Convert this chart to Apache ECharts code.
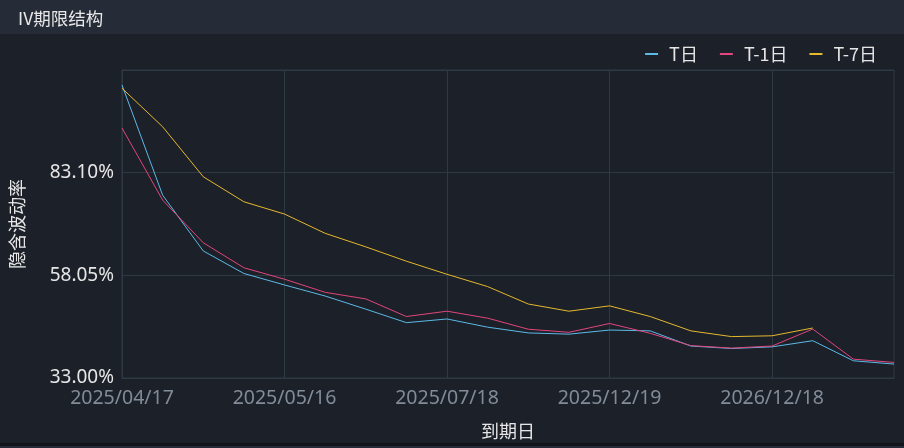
<!DOCTYPE html>
<html>
<head>
<meta charset="utf-8">
<script src="https://cdn.jsdelivr.net/npm/echarts@6/dist/echarts.min.js"></script>
<style>
html,body{margin:0;padding:0;background:#262c37;}
#main{width:904px;height:448px;}
</style>
</head>
<body>
<div id="main"></div>
<script>
const categories = ['2025/04/17','2025/04/25','2025/05/02','2025/05/09','2025/05/16','2025/05/23','2025/05/30','2025/06/20','2025/07/18','2025/08/15','2025/09/19','2025/10/17','2025/12/19','2026/01/16','2026/03/20','2026/06/18','2026/12/18','2027/01/15','2027/06/17','2027/12/17'];
const seriesNames = ['T日','T-1日','T-7日'];
const ivT  = [104.5,77.6,64.0,58.5,55.7,53.0,49.8,46.5,47.4,45.4,44.0,43.7,44.7,44.5,40.8,40.2,40.6,42.1,37.2,36.4];
const ivT1 = [94.0,76.4,66.0,59.9,57.1,53.9,52.3,48.0,49.3,47.6,44.9,44.15,46.3,43.9,40.9,40.3,40.8,44.95,37.6,36.8];
const ivT7 = [103.7,94.3,82.1,76.0,73.0,68.3,65.0,61.5,58.3,55.3,51.05,49.3,50.6,48.0,44.5,43.1,43.3,45.2,null,null];
const yTicks = [33.00, 58.05, 83.10, 108.15];

const colors = ['#5db9e6','#e2467c','#e6b82e'];
const chart = echarts.init(document.getElementById('main'));
const mk = (name, data, i) => ({
  name, type:'line', data, symbol:'none', smooth:false,
  lineStyle:{width:1, color:colors[i]}, itemStyle:{color:colors[i]}
});
chart.setOption({
  backgroundColor:'#1b2029',
  animation:false,
  graphic:[
    {type:'rect', left:0, top:0, shape:{width:904, height:34}, style:{fill:'#262c37'}, z:-1},
    {type:'rect', left:0, top:443, shape:{width:904, height:3}, style:{fill:'#11151b'}, z:-1},
    {type:'rect', left:0, top:446, shape:{width:904, height:2}, style:{fill:'#262c37'}, z:-1}
  ],
  title:{text:'IV期限结构', left:13, top:5, textStyle:{color:'#e8e8e8', fontSize:17.5, fontWeight:'normal', fontFamily:'Noto Sans CJK SC'}},
  legend:{
    data:seriesNames, right:22, top:40, itemWidth:13, itemHeight:2, icon:'rect', itemGap:22,
    textStyle:{color:'#e6e6e6', fontSize:18, fontFamily:'Noto Sans CJK SC', padding:[0,0,0,6]}
  },
  grid:{left:121.5, right:10, top:70, bottom:70, show:true, borderColor:'#2f3944', borderWidth:1},
  xAxis:{
    type:'category', data:categories, boundaryGap:false,
    name:'到期日', nameLocation:'middle', nameGap:44,
    nameTextStyle:{color:'#e6e6e6', fontSize:18, fontFamily:'Noto Sans CJK SC'},
    axisLine:{lineStyle:{color:'#2f3944'}}, axisTick:{show:false},
    axisLabel:{interval:3, color:'#828b98', fontSize:19.5, margin:10, fontFamily:'Noto Sans'},
    splitLine:{show:true, interval:3, lineStyle:{color:'#2f3944'}}
  },
  yAxis:{
    type:'value', min:yTicks[0], max:yTicks[3], interval:25.05,
    name:'隐含波动率', nameLocation:'middle', nameGap:96, nameRotate:90,
    nameTextStyle:{color:'#e6e6e6', fontSize:18, fontFamily:'Noto Sans CJK SC'},
    axisLine:{show:true, lineStyle:{color:'#2f3944'}}, axisTick:{show:false},
    axisLabel:{color:'#e6e6e6', fontSize:19, margin:8, showMaxLabel:false, fontFamily:'Noto Sans',
      formatter:v => v.toFixed(2)+'%'},
    splitLine:{lineStyle:{color:'#2f3944'}}
  },
  series:[mk(seriesNames[0], ivT, 0), mk(seriesNames[1], ivT1, 1), mk(seriesNames[2], ivT7, 2)]
});
</script>
</body>
</html>
